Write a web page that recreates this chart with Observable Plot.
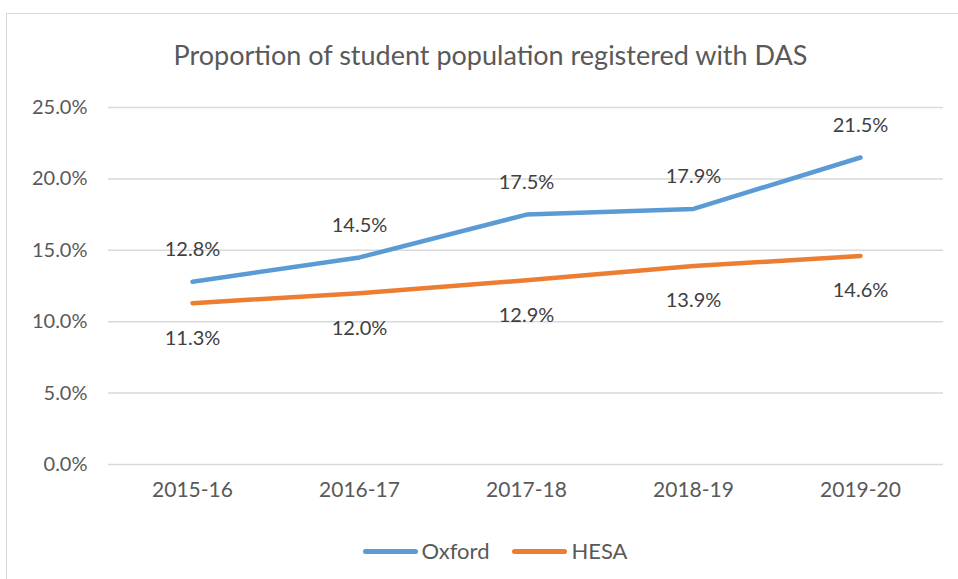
<!DOCTYPE html>
<html>
<head>
<meta charset="utf-8">
<script src="https://cdn.jsdelivr.net/npm/d3@7"></script>
<script src="https://cdn.jsdelivr.net/npm/@observablehq/plot@0.6"></script>
<style>
  body { margin: 0; background: #fff; font-family: Lato, "Open Sans", sans-serif; }
  #wrap { position: relative; width: 958px; height: 579px; overflow: hidden; }
  #frame { position: absolute; left: 6px; top: 13px; width: 980px; height: 600px; border: 1px solid #d9d9d9; box-sizing: border-box; }
  #title { position: absolute; left: 0; top: 39px; width: 981px; text-align: center; font-size: 27px; line-height: 32px; color: #595959; }
  #chart { position: absolute; left: 0; top: 0; }
  #legend { position: absolute; top: 538px; left: 0; width: 990px; display: flex; justify-content: center; gap: 23px; font-size: 22px; line-height: 26px; color: #595959; }
  .item { display: flex; align-items: center; gap: 4px; }
  .sw { width: 55px; height: 5px; border-radius: 3px; }
</style>
</head>
<body>
<div id="wrap">
  <div id="frame"></div>
  <div id="title">Proportion of student population registered with DAS</div>
  <div id="chart"></div>
  <div id="legend"></div>
</div>
<script>
const years = ["2015-16", "2016-17", "2017-18", "2018-19", "2019-20"];
const oxford = [0.128, 0.145, 0.175, 0.179, 0.215];
const hesa = [0.113, 0.120, 0.129, 0.139, 0.146];
const yTicks = [0, 0.05, 0.10, 0.15, 0.20, 0.25];
const seriesNames = ["Oxford", "HESA"];
const seriesColors = ["#5b9bd5", "#ed7d31"];

const data = [
  ...years.map((y, i) => ({year: y, value: oxford[i], series: "Oxford"})),
  ...years.map((y, i) => ({year: y, value: hesa[i], series: "HESA"}))
];
const fmt = d3.format(".1%");

const chart = Plot.plot({
  width: 958,
  height: 579,
  marginTop: 107,
  marginBottom: 115,
  marginLeft: 108,
  marginRight: 15,
  style: {fontFamily: "Lato, 'Open Sans', sans-serif", background: "transparent", color: "#595959"},
  x: {type: "point", domain: years, padding: 0.5, label: null},
  y: {domain: [0, 0.25], label: null},
  color: {domain: seriesNames, range: seriesColors},
  marks: [
    Plot.ruleY(yTicks, {stroke: "#d9d9d9", strokeWidth: 1.5}),
    Plot.axisY(yTicks, {tickSize: 0, tickPadding: 21, tickFormat: fmt, fontSize: 20, fill: "#595959", label: null}),
    Plot.axisX(years, {tickSize: 0, tickPadding: 18, fontSize: 21, fill: "#595959", label: null}),
    Plot.line(data, {x: "year", y: "value", z: "series", stroke: "series", strokeWidth: 4.5, strokeLinejoin: "round", strokeLinecap: "round"}),
    Plot.text(data.filter(d => d.series === "Oxford"), {x: "year", y: "value", text: d => fmt(d.value), dy: -32, fontSize: 20, fill: "#404040"}),
    Plot.text(data.filter(d => d.series === "HESA"), {x: "year", y: "value", text: d => fmt(d.value), dy: 35, fontSize: 20, fill: "#404040"})
  ]
});
document.getElementById("chart").appendChild(chart);

const legend = document.getElementById("legend");
seriesNames.forEach((name, i) => {
  const item = document.createElement("div");
  item.className = "item";
  const sw = document.createElement("div");
  sw.className = "sw";
  sw.style.background = seriesColors[i];
  const lab = document.createElement("span");
  lab.textContent = name;
  item.appendChild(sw);
  item.appendChild(lab);
  legend.appendChild(item);
});
</script>
</body>
</html>
